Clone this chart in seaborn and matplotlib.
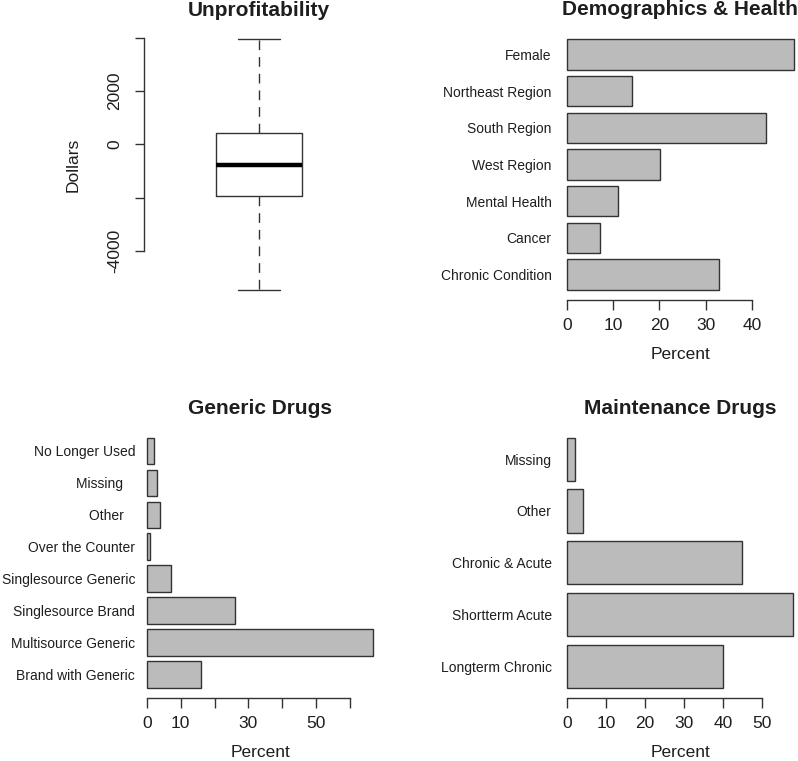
import matplotlib
matplotlib.use("Agg")
import matplotlib.pyplot as plt
import seaborn as sns

# --- data ---
box_stats = {"whislo": -5466, "q1": -1932, "med": -766, "q3": 425, "whishi": 3958}
dollar_ticks = [-4000, -2000, 0, 2000, 4000]
dollar_ticklabels = ["-4000", "", "0", "2000", ""]

demo_labels = ["Female", "Northeast Region", "South Region", "West Region",
               "Mental Health", "Cancer", "Chronic Condition"]
demo_values = [49.1, 14.0, 43.0, 20.1, 11.1, 7.1, 33.0]
demo_ticks = [0, 10, 20, 30, 40]
demo_ticklabels = ["0", "10", "20", "30", "40"]

generic_labels = ["No Longer Used", "Missing   ", "Other   ", "Over the Counter",
                  "Singlesource Generic", "Singlesource Brand",
                  "Multisource Generic", "Brand with Generic"]
generic_values = [2.1, 3.0, 4.0, 1.0, 7.1, 26.0, 67.0, 16.1]
generic_ticks = [0, 10, 20, 30, 40, 50, 60]
generic_ticklabels = ["0", "10", "", "30", "", "50", ""]

maint_labels = ["Missing", "Other", "Chronic & Acute", "Shortterm Acute",
                "Longterm Chronic"]
maint_values = [2.1, 4.1, 45.0, 58.0, 40.0]
maint_ticks = [0, 10, 20, 30, 40, 50]
maint_ticklabels = ["0", "10", "20", "30", "40", "50"]

BAR_FILL = "#BBBBBB"
EDGE = "#333333"
TEXT = "#1e1e1e"
BAR_W = 1 / 1.2

sns.set_style("white")
plt.rcParams["font.family"] = ["Liberation Sans", "DejaVu Sans"]
plt.rcParams["text.color"] = TEXT
plt.rcParams["axes.labelcolor"] = TEXT
plt.rcParams["xtick.color"] = EDGE
plt.rcParams["ytick.color"] = EDGE
plt.rcParams["xtick.labelcolor"] = TEXT
plt.rcParams["ytick.labelcolor"] = TEXT

W, H = 798, 761
fig = plt.figure(figsize=(W / 100, H / 100), dpi=100)


def px_axes(left, top, right, bottom):
    return fig.add_axes([left / W, 1 - bottom / H, (right - left) / W, (bottom - top) / H])


def bar_panel(ax, labels, values, ticks, ticklabels, title, label_pad):
    sns.barplot(x=values, y=labels, orient="h", color=BAR_FILL, edgecolor=EDGE,
                linewidth=1, width=BAR_W, saturation=1, ax=ax)
    n = len(labels)
    half = BAR_W / 2
    ext = 0.04 * ((n - 1) + BAR_W)
    ax.set_ylim(n - 1 + half + ext, -half - ext)
    top = max(values)
    ax.set_xlim(-0.04 * top, 1.04 * top)
    for side in ["left", "top", "right"]:
        ax.spines[side].set_visible(False)
    ax.spines["bottom"].set_bounds(ticks[0], ticks[-1])
    ax.spines["bottom"].set_color(EDGE)
    ax.spines["bottom"].set_linewidth(1)
    ax.set_xticks(ticks)
    ax.set_xticklabels(ticklabels)
    ax.tick_params(axis="x", bottom=True, direction="out", length=7.5, width=1,
                   pad=6, labelsize=12.5)
    ax.tick_params(axis="y", left=False, length=0, pad=label_pad, labelsize=10)
    ax.set_ylabel("")
    ax.set_xlabel("Percent", fontsize=12.5, labelpad=10)
    ax.set_title(title, fontsize=15, fontweight="bold", pad=10)


# --- Unprofitability box plot ---
ax1 = px_axes(144, 29, 374, 300)
ax1.bxp([dict(box_stats, fliers=[])], positions=[1], widths=0.4, capwidths=0.2,
        showfliers=False, manage_ticks=False,
        boxprops=dict(color=EDGE, linewidth=1),
        whiskerprops=dict(color=EDGE, linewidth=1, linestyle=(0, (7, 5))),
        capprops=dict(color=EDGE, linewidth=1),
        medianprops=dict(color="black", linewidth=3.2, solid_capstyle="butt"))
lo, hi = box_stats["whislo"], box_stats["whishi"]
ext = 0.04 * (hi - lo)
ax1.set_ylim(lo - ext, hi + ext)
ax1.set_xlim(0.46, 1.54)
for side in ["bottom", "top", "right"]:
    ax1.spines[side].set_visible(False)
ax1.spines["left"].set_bounds(dollar_ticks[0], dollar_ticks[-1])
ax1.spines["left"].set_color(EDGE)
ax1.spines["left"].set_linewidth(1)
ax1.set_xticks([])
ax1.set_yticks(dollar_ticks)
ax1.set_yticklabels(dollar_ticklabels, rotation=90, va="center")
ax1.tick_params(axis="y", left=True, direction="out", length=6.5, width=1, pad=9,
                labelsize=12.5)
ax1.set_ylabel("Dollars", fontsize=12.5, labelpad=19)
ax1.set_title("Unprofitability", fontsize=15, fontweight="bold", pad=9.5)

# --- bar panels ---
ax2 = px_axes(557.9, 29.3, 802.9, 299.7)
bar_panel(ax2, demo_labels, demo_values, demo_ticks, demo_ticklabels,
          "Demographics & Health", 4.5)

ax3 = px_axes(137.9, 427.7, 382.5, 697.7)
bar_panel(ax3, generic_labels, generic_values, generic_ticks, generic_ticklabels,
          "Generic Drugs", 2)

ax4 = px_axes(557.9, 427.7, 802.2, 697.7)
bar_panel(ax4, maint_labels, maint_values, maint_ticks, maint_ticklabels,
          "Maintenance Drugs", 4.5)

fig.savefig("out.png", dpi=100, facecolor="white")
